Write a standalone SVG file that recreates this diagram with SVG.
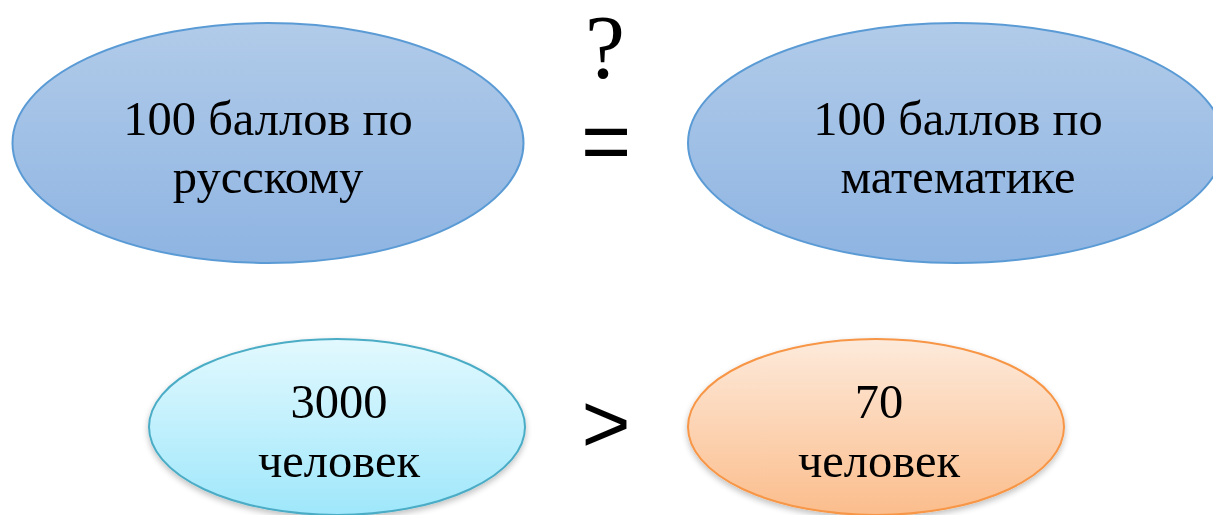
<svg xmlns="http://www.w3.org/2000/svg" width="1213" height="515" viewBox="0 0 1213 515">
<defs>
<linearGradient id="gBlue" x1="0" y1="0" x2="0" y2="1"><stop offset="0" stop-color="#b1cbe9"/><stop offset="1" stop-color="#8eb4e2"/></linearGradient>
<linearGradient id="gCyan" x1="0" y1="0" x2="0" y2="1"><stop offset="0" stop-color="#e2f9fe"/><stop offset="1" stop-color="#9fe7fb"/></linearGradient>
<linearGradient id="gOrange" x1="0" y1="0" x2="0" y2="1"><stop offset="0" stop-color="#fdeadb"/><stop offset="1" stop-color="#fbbd8c"/></linearGradient>
<filter id="sh" x="-10%" y="-10%" width="120%" height="130%"><feGaussianBlur in="SourceAlpha" stdDeviation="3"/><feOffset dy="3"/><feComponentTransfer><feFuncA type="linear" slope="0.25"/></feComponentTransfer><feMerge><feMergeNode/><feMergeNode in="SourceGraphic"/></feMerge></filter>
</defs>
<style>
.lbl{font-family:"Liberation Serif","Times New Roman",serif;font-size:48.5px;fill:#000;text-anchor:middle}
.sym{font-family:"Liberation Sans",Arial,sans-serif;fill:#000;text-anchor:middle}
</style>
<rect width="1213" height="515" fill="#fff"/>
<g id="node-russian">
<ellipse cx="268" cy="143" rx="255.5" ry="120" fill="url(#gBlue)" stroke="#5b9bd5" stroke-width="2"/>
<text class="lbl" x="268" y="135">100 баллов по</text>
<text class="lbl" x="268" y="193">русскому</text>
</g>
<g id="node-math">
<ellipse cx="956" cy="143" rx="268" ry="120" fill="url(#gBlue)" stroke="#5b9bd5" stroke-width="2"/>
<text class="lbl" x="958" y="135">100 баллов по</text>
<text class="lbl" x="958" y="193">математике</text>
</g>
<g id="node-3000">
<ellipse cx="337" cy="427" rx="188" ry="88" fill="url(#gCyan)" stroke="#4bacc6" stroke-width="2" filter="url(#sh)"/>
<text class="lbl" x="339" y="418">3000</text>
<text class="lbl" x="339" y="477">человек</text>
</g>
<g id="node-70">
<ellipse cx="876" cy="427" rx="188" ry="88" fill="url(#gOrange)" stroke="#f79646" stroke-width="2" filter="url(#sh)"/>
<text class="lbl" x="879" y="418">70</text>
<text class="lbl" x="879" y="477">человек</text>
</g>
<g id="connectors">
<text x="605" y="78" style="font-family:'Liberation Serif','Times New Roman',serif;font-size:90px;text-anchor:middle">?</text>
<text class="sym" x="606" y="170" font-size="86">=</text>
<text class="sym" x="606" y="452" font-size="84">&gt;</text>
</g>
</svg>
